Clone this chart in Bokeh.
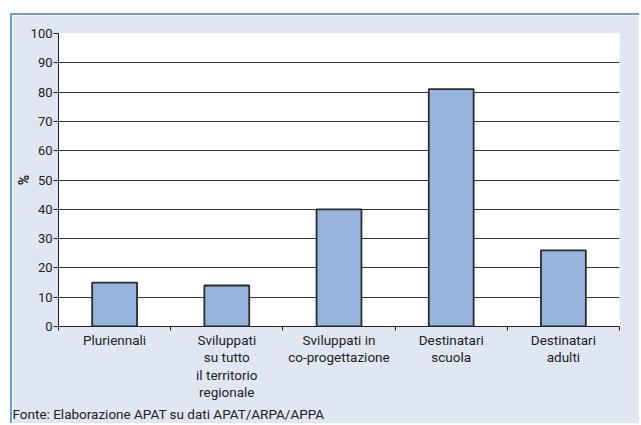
from bokeh.plotting import figure
from bokeh.models import (Range1d, LinearAxis, FixedTicker, ColumnDataSource, Grid, Title)
from bokeh.embed import file_html
from bokeh.resources import INLINE

categories = ["Pluriennali",
              "Sviluppati\nsu tutto\nil territorio\nregionale",
              "Sviluppati in\nco-progettazione",
              "Destinatari\nscuola",
              "Destinatari\nadulti"]
values = [15, 14, 40, 81, 26]
y_ticks = [0, 10, 20, 30, 40, 50, 60, 70, 80, 90, 100]
y_label = "%"
source_note = "Fonte: Elaborazione APAT su dati APAT/ARPA/APPA"

FONT = "Roboto"
BG = "#e0e6f2"
BORDER = "#6b9fd3"
TXT = "#222222"

n = len(categories)
centers = [i + 0.5 for i in range(n)]
bounds = list(range(0, n + 1))

p = figure(width=629, height=410, x_range=Range1d(0, n), y_range=Range1d(0, 100),
           output_backend="svg", toolbar_location=None, x_axis_location=None, y_axis_location=None,
           min_border_left=46, min_border_right=22, min_border_top=18, min_border_bottom=99)
p.styles = {"margin-left": "10px", "margin-top": "13px",
            "border-left": f"2px solid {BORDER}", "border-top": f"2px solid {BORDER}"}
p.border_fill_color = BG
p.background_fill_color = "white"
p.outline_line_color = None
p.grid.visible = False

src = ColumnDataSource(dict(x=centers, val=values))
p.vbar(x="x", top="val", width=0.4, source=src, fill_color="#95b3dd",
       line_color="#2b2b2b", line_width=1.8)

# y axis
yax = LinearAxis(ticker=FixedTicker(ticks=y_ticks), axis_label=y_label)
yax.axis_line_color = TXT
yax.major_tick_line_color = TXT
yax.major_tick_out = 5
yax.major_tick_in = 0
yax.minor_tick_line_color = None
yax.major_label_text_font = FONT
yax.major_label_text_font_size = "13px"
yax.major_label_text_color = TXT
yax.major_label_standoff = 1
yax.axis_label_text_font = FONT
yax.axis_label_text_font_size = "14px"
yax.axis_label_text_font_style = "bold"
yax.axis_label_text_color = TXT
yax.axis_label_standoff = -4
p.add_layout(yax, "left")

# x axis: labels at category centres, ticks (minor) at category boundaries
xax = LinearAxis(ticker=FixedTicker(ticks=centers, minor_ticks=bounds),
                 major_label_overrides={c: lab for c, lab in zip(centers, categories)})
xax.axis_line_color = TXT
xax.major_tick_line_color = None
xax.major_tick_out = 0
xax.major_tick_in = 0
xax.minor_tick_line_color = TXT
xax.minor_tick_out = 4
xax.minor_tick_in = 0
xax.major_label_text_font = FONT
xax.major_label_text_font_size = "13.5px"
xax.major_label_text_line_height = 1.1
xax.major_label_text_color = TXT
xax.major_label_standoff = 1
p.add_layout(xax, "below")

g = Grid(dimension=1, ticker=yax.ticker, grid_line_color="#333333", grid_line_width=1)
p.add_layout(g)

foot = Title(text=source_note, align="left", offset=-46, standoff=0,
             text_font=FONT, text_font_size="13.5px", text_font_style="normal",
             text_line_height=1.0, text_color=TXT)
p.add_layout(foot, "below")

open("out.html", "w").write(file_html(p, INLINE))
